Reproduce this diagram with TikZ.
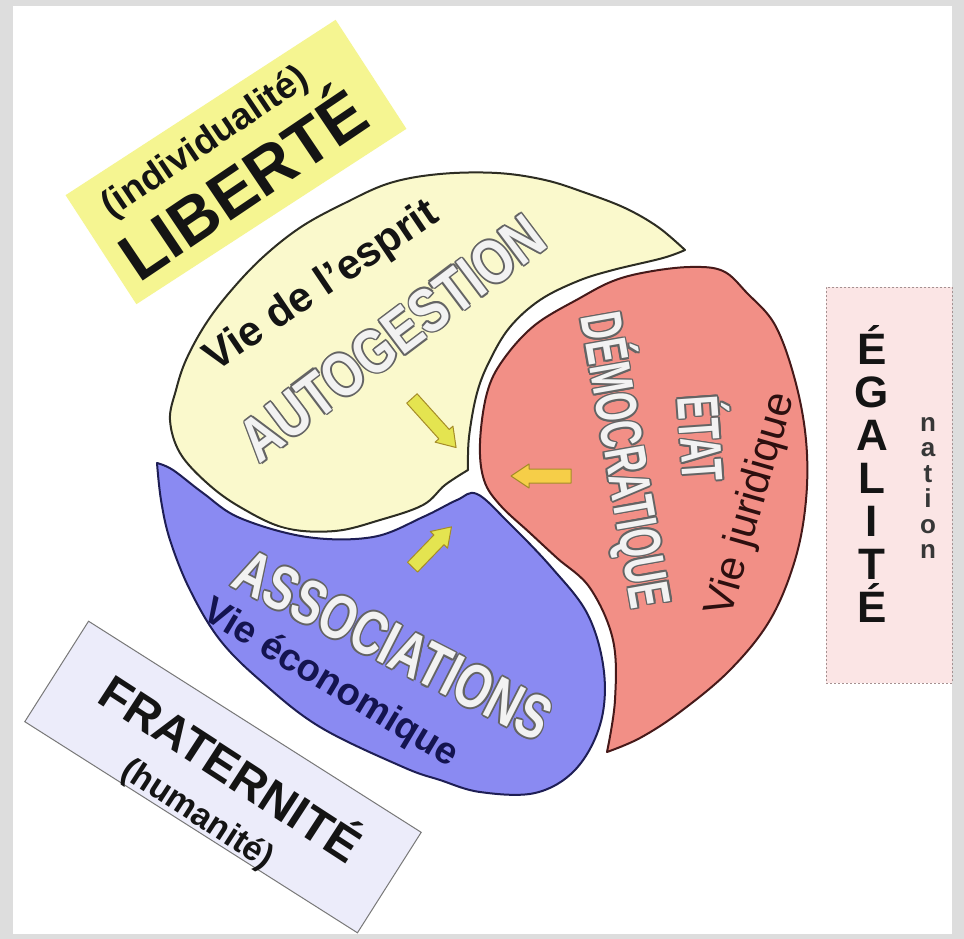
\documentclass[tikz,border=0pt]{standalone}
\usepackage{fontspec}
\setmainfont{Liberation Sans}
\usetikzlibrary{calc}
\definecolor{framegrey}{RGB}{221,221,221}
\definecolor{yfill}{RGB}{250,249,204}
\definecolor{yedge}{RGB}{45,45,35}
\definecolor{rfill}{RGB}{242,143,134}
\definecolor{redge}{RGB}{70,25,25}
\definecolor{bfill}{RGB}{138,138,242}
\definecolor{bedge}{RGB}{30,30,85}
\definecolor{libfill}{RGB}{245,245,145}
\definecolor{frafill}{RGB}{236,236,250}
\definecolor{fraedge}{RGB}{120,120,120}
\definecolor{egafill}{RGB}{251,229,229}
\definecolor{egaedge}{RGB}{165,145,145}
\definecolor{arrowA}{RGB}{228,228,80}
\definecolor{arrowB}{RGB}{246,206,72}
\definecolor{arrowedge}{RGB}{165,140,40}
\definecolor{hollowedge}{RGB}{100,100,100}
\definecolor{hollowfill}{RGB}{242,242,242}
\definecolor{econcol}{RGB}{20,20,80}
\definecolor{jurcol}{RGB}{45,15,15}
\definecolor{inkcol}{RGB}{20,20,20}
\tikzset{
  region/.style={line width=2pt, line join=round, preaction={draw=white, line width=7pt}},
  hollowback/.style={text=hollowedge, inner sep=0pt},
  hollowfront/.style={text=hollowfill, inner sep=0pt},
  plain/.style={inner sep=0pt, text=inkcol},
  arrowshape/.style={draw=arrowedge, line width=1pt, line join=round},
}
\newcommand\hollowtext[6]{%
  \foreach \a in {0,45,...,315}{%
    \node[hollowback, rotate=#3, font=\fontsize{#4}{#4}\selectfont\bfseries]
      at ([shift={({1.7*cos(\a)},{1.7*sin(\a)})}]#2) {\scalebox{#5}[1]{#6}};}%
  \node[hollowfront, rotate=#3, font=\fontsize{#4}{#4}\selectfont\bfseries] (#1) at (#2) {\scalebox{#5}[1]{#6}};}
\newcommand\blockarrow[6]{% name, x, y, angle, length, fill
  \begin{scope}[shift={(#2,#3)}, rotate=#4]
    \filldraw[arrowshape, fill=#6] ({-#5/2},-7) -- ({#5/2-18},-7) -- ({#5/2-18},-12) -- ({#5/2},0)
      -- ({#5/2-18},12) -- ({#5/2-18},7) -- ({-#5/2},7) -- cycle;
    \coordinate (#1) at (0,0);
  \end{scope}}
\begin{document}
\begin{tikzpicture}[x=1pt,y=-1pt]
\useasboundingbox (0,0) rectangle (964,939);
\fill[framegrey] (0,0) rectangle (964,939);
\fill[white] (13,6) rectangle (952,934);

% outer label boxes
\node[fill=libfill, rotate=33, minimum width=322pt, minimum height=130pt, inner sep=0pt] (libbox) at (236,162) {};
\node[fill=frafill, draw=fraedge, line width=1pt, rotate=-32.4, minimum width=394pt, minimum height=119pt, inner sep=0pt] (frabox) at (223,777) {};
\node[fill=egafill, draw=egaedge, line width=1pt, dash pattern=on 2pt off 2pt, minimum width=126pt, minimum height=396pt, inner sep=0pt] (egabox) at (889,485) {};

% yellow region
\filldraw[region, fill=yfill, draw=yedge]
  plot[smooth, tension=0.6] coordinates {(685,250) (663,258) (613,270) (578,281) (540,300) (510,327) (490,360) (477,393) (469,437) (468,470)}
  -- plot[smooth, tension=0.6] coordinates {(468,470) (445,485) (423,505) (380,520) (335,531) (285,528) (240,507) (207,483) (180,453) (170,420) (176,390) (186,360) (205,325) (229,293) (262,258) (301,227) (345,203) (390,183) (440,174) (497,173) (545,180) (586,193) (625,208) (658,227) (685,250)}
  -- cycle;

% red region
\filldraw[region, fill=rfill, draw=redge]
  plot[smooth, tension=0.6] coordinates {(607,752) (615,700) (613,640) (590,588) (557,558) (530,533) (500,505) (484,480) (480,443) (487,393) (503,360) (535,325) (580,298) (613,281) (647,272) (690,267) (723,271) (747,293) (775,325) (795,380) (806,440) (806,500) (795,560) (770,620) (730,670) (680,712) (640,738) (607,752)}
  -- cycle;

% blue region
\filldraw[region, fill=bfill, draw=bedge]
  plot[smooth, tension=0.6] coordinates {(157,463) (173,470) (203,493) (240,518) (307,537) (373,537) (423,517) (457,500) (477,494) (508,522) (552,568) (588,615) (604,672) (600,725) (575,770) (535,793) (480,792) (440,780) (403,767) (320,727) (262,682) (220,640) (190,590) (170,540) (161,500) (157,463)}
  -- cycle;

% arrows
\blockarrow{arrA}{434}{423}{-48}{66}{arrowA}
\blockarrow{arrB}{541}{476}{180}{60}{arrowB}
\blockarrow{arrC}{432}{547}{46}{56}{arrowA}

% texts in regions
\node[plain, rotate=34, font=\fontsize{42}{42}\selectfont\bfseries] (esprit) at (322,287) {Vie de l'esprit};
\hollowtext{autog}{392,338}{37}{62}{0.8}{AUTOGESTION}
\hollowtext{etat}{706,438}{-86}{58}{0.6}{ÉTAT}
\hollowtext{democ}{626,460}{-80}{58}{0.63}{DÉMOCRATIQUE}
\node[plain, text=jurcol, rotate=74, font=\fontsize{42}{42}\selectfont] (juri) at (752,505) {Vie juridique};
\hollowtext{assoc}{393,645}{-27}{62}{0.74}{ASSOCIATIONS}
\node[plain, text=econcol, rotate=-31, font=\fontsize{38}{38}\selectfont\bfseries] (econ) at (330,684) {Vie économique};

% outer labels
\node[plain, rotate=34, font=\fontsize{37}{37}\selectfont\bfseries] (indiv) at (206,143) {(individualité)};
\node[plain, rotate=34, font=\fontsize{66}{66}\selectfont\bfseries] (liberte) at (240,180) {LIBERTÉ};
\node[plain, rotate=-33, font=\fontsize{48}{48}\selectfont\bfseries] (frat) at (233,765) {FRATERNITÉ};
\node[plain, rotate=-33, font=\fontsize{34}{34}\selectfont\bfseries] (human) at (197,815) {(humanité)};
\node[plain, anchor=north, align=center, font=\fontsize{44}{43}\selectfont\bfseries] (egal) at (872,325) {É\\G\\A\\L\\I\\T\\É};
\node[plain, text={rgb,255:red,55;green,55;blue,55}, anchor=north, align=center, font=\fontsize{26}{25.5}\selectfont\bfseries] (nation) at (928,417) {n\\a\\t\\i\\o\\n};
\end{tikzpicture}
\end{document}
